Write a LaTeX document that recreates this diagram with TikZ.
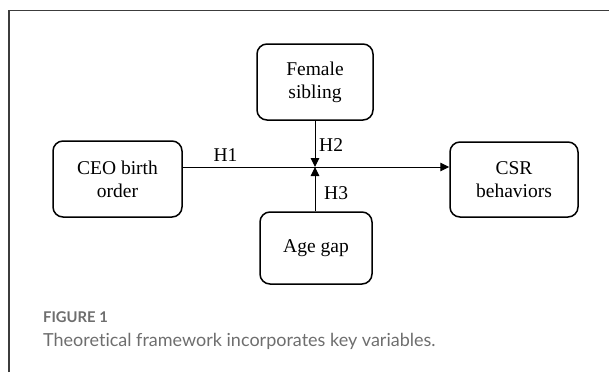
\documentclass[tikz,border=0pt]{standalone}
\usepackage{fontspec}
\setmainfont{Liberation Serif}
\newfontfamily\capfont[Ligatures={NoCommon,NoRare}]{Lato}
\usetikzlibrary{arrows.meta}

\definecolor{framegray}{HTML}{3C3C3C}
\definecolor{capgray}{HTML}{6E6E6E}

\begin{document}
\begin{tikzpicture}[x=1pt, y=-1pt,
		varbox/.style={draw, rounded corners=10pt, line width=1.5pt, align=center,
			font=\fontsize{19.5}{23}\selectfont, inner sep=0pt},
		link/.style={line width=1pt, -{Triangle[length=9pt, width=8.5pt]}},
		hlabel/.style={font=\fontsize{19.5}{23}\selectfont, inner sep=0pt}]
		\useasboundingbox (0,0) rectangle (609,372);
		% frame of the figure
		\draw[framegray, line width=1.5pt] (9,372) -- (9,10.5) -- (609,10.5);
		% variables
		\node[varbox, minimum width=116pt, minimum height=76pt] (sib) at (315,82) {Female\\sibling};
		\node[varbox, minimum width=129pt, minimum height=76pt] (ceo) at (117.5,179) {CEO birth\\order};
		\node[varbox, minimum width=128pt, minimum height=75pt] (csr) at (514,179.5) {CSR\\behaviors};
		\node[varbox, minimum width=112pt, minimum height=72pt] (age) at (316,248) {Age gap};
		\coordinate (cross) at (315,167);
		% paths
		\draw[link] (ceo.east |- cross) -- (csr.west |- cross);
		\draw[link] (sib.south) -- (cross);
		\draw[link] (age.north -| cross) -- (cross);
		\node[hlabel] (h1) at (225.5,155) {H1};
		\node[hlabel, anchor=west] (h2) at (319,145) {H2};
		\node[hlabel, anchor=west] (h3) at (324,193.5) {H3};
		% caption
		\node[anchor=base west, inner sep=0pt, capgray, font=\capfont\bfseries\fontsize{14.8}{17}\selectfont] (fig) at (43,322.7) {FIGURE 1};
		\node[anchor=base west, inner sep=0pt, capgray, font=\capfont\fontsize{18}{21}\selectfont] (cap) at (43,346.7) {Theoretical framework incorporates key variables.};
\end{tikzpicture}
\end{document}
